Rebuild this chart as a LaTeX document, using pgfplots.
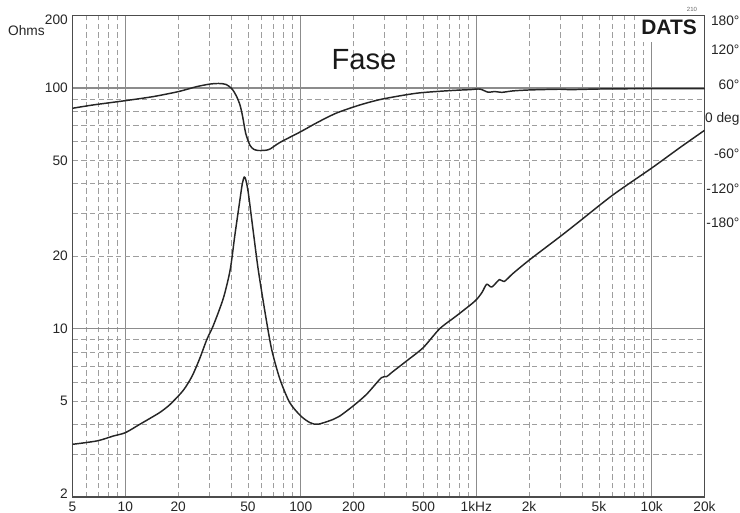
\documentclass[border=0pt]{standalone}
\usepackage{fontspec}
\setmainfont{Liberation Sans}
\usepackage{pgfplots}
\pgfplotsset{compat=1.18}
\begin{document}
\begin{tikzpicture}
\begin{axis}[
  at={(0,0)}, anchor=south west,
  scale only axis, width=474pt, height=361.1pt,
  xmode=log, ymode=log,
  xmin=5, xmax=20000, ymin=2, ymax=200,
  xtick={10,100,1000,10000}, xticklabels={10,100,1kHz,10k},
  extra x ticks={5,20,50,200,500,2000,5000,20000},
  extra x tick labels={5,20,50,200,500,2k,5k,20k},
  extra x tick style={grid=none},
  ytick={10,100}, yticklabels={10,100},
  extra y ticks={2,5,20,50,200},
  extra y tick labels={\smash{\raisebox{-1.45pt}{2}},5,20,50,\smash{\raisebox{-7pt}{200}}},
  extra y tick style={grid=none},
  minor xtick={6,7,8,9,20,30,40,50,60,70,80,90,200,300,400,500,600,700,800,900,2000,3000,4000,5000,6000,7000,8000,9000},
  minor ytick={3,4,5,6,7,8,9,20,30,40,50,60,70,80,90},
  major tick length=0pt, minor tick length=0pt,
  xmajorgrids, ymajorgrids, xminorgrids, yminorgrids,
  major grid style={black!45, line width=0.8pt},
  minor grid style={black!38, line width=0.6pt, dash pattern=on 4pt off 2.5pt},
  axis line style={black!70, line width=1pt},
  tick label style={font=\fontsize{10.3}{12}\selectfont, text=black!85},
  clip mode=individual,
]
\addplot[black!85, line width=1.1pt, line join=round, smooth, tension=0.45] coordinates {
(5,3.31) (6.9,3.42) (8.5,3.58) (10,3.70) (12.1,4.01) (13.8,4.24) (15.8,4.50)
(18,4.85) (21.4,5.55) (24,6.35) (26.5,7.5) (29.1,9.0) (31.7,10.3) (36.2,13.4)
(39.6,17.6) (42.1,24.5) (45,34.4) (46.4,40.0) (47.6,42.7) (48.6,41.5) (50.2,36.7)
(53.7,25.0) (57.2,17.6) (62.6,11.65) (68.2,8.21) (76.1,6.16) (86.5,4.93)
(100,4.34) (113,4.07) (125.5,4.01) (153,4.20) (167,4.34) (199,4.78) (237,5.34)
(288,6.26) (309,6.33) (329,6.57) (400,7.34) (498,8.34) (619,10.0) (770,11.3)
(980,13.0) (1075,14.1) (1146,15.3) (1226,14.9) (1356,16.0) (1442,15.7)
(1618,16.96) (2025,19.4) (2996,24.1) (3894,28.0) (6024,36.0) (10000,46.5)
(14460,56.5) (20000,66.7)
};
\end{axis}
\begin{axis}[
  at={(0,0)}, anchor=south west,
  scale only axis, width=474pt, height=361.1pt,
  xmode=log, xmin=5, xmax=20000, ymin=-654.8, ymax=180,
  hide x axis, axis y line*=right, y axis line style={draw=none},
  ytick={-180,-120,-60,0,60,120,180},
  yticklabels={-180°,-120°,-60°,0 deg,60°,120°,\smash{\raisebox{-7.5pt}{180°}}},
  major tick length=0pt,
  yticklabel style={anchor=east, inner sep=0pt, xshift=26.4pt, font=\fontsize{10.3}{12}\selectfont, text=black!85},
]
\addplot[black!85, line width=1.1pt, line join=round, smooth, tension=0.45] coordinates {
(5,19.2) (6.57,25.0) (10,32.4) (14.4,39.4) (20,48) (25.5,56.7) (30.4,61.2)
(34,62.2) (37.5,60.5) (40.5,53) (43,40) (45,25) (46.6,5) (48.5,-24) (51.3,-45)
(54,-52) (57.2,-54) (62,-53.8) (66.5,-51.8) (76.1,-40) (100,-21.3) (125,-5)
(160,11) (217.6,25) (290,35) (457,45.3) (707,49.8) (923,51.5)
(1048,52.5) (1170,47) (1272,48.3) (1396,46.8) (1618,49.3) (2025,51)
(2996,52.2) (3420,51.5) (5275,52.7) (10200,53.2) (20000,53.2)
};
\end{axis}
\node[anchor=east, inner sep=0pt, font=\fontsize{10.3}{12}\selectfont, text=black!85] at (-20.6pt,349.5pt) {Ohms};
\node[anchor=base, inner sep=0pt, font=\fontsize{21.9}{26}\selectfont, text=black!90] at (218.6pt,320.25pt) {Fase};
\node[anchor=base east, fill=white, inner xsep=3pt, inner ysep=0pt, text height=13.9pt, text depth=5.25pt, font=\bfseries\fontsize{15.7}{18}\selectfont, text=black!90] at (471.4pt,346.5pt) {DATS};
\node[inner sep=0pt, font=\fontsize{4.5}{5}\selectfont, text=black!60] at (464.6pt,365.6pt) {210};
\pgfresetboundingbox
\path[use as bounding box] (-54.4pt,-12pt) rectangle (500.6pt,372.75pt);
\end{tikzpicture}
\end{document}
